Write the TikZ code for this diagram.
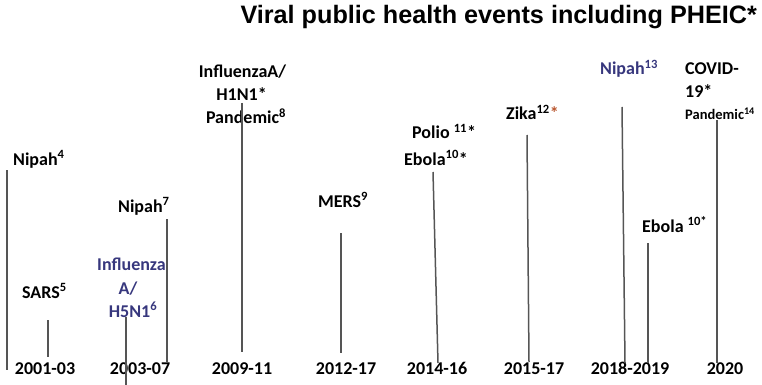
\documentclass[tikz,border=0pt]{standalone}
\usepackage{fontspec}
\setmainfont{Carlito}
\newfontfamily\titlefont{Liberation Sans}
\definecolor{navy}{RGB}{55,55,125}
\definecolor{zikaorange}{RGB}{185,85,45}
\definecolor{barcol}{RGB}{85,85,85}
\newcommand{\sups}[1]{\textsuperscript{#1}}
\tikzset{
  lbl/.style={font=\bfseries\fontsize{18}{20}\selectfont, inner sep=0pt, anchor=base west},
  lblc/.style={font=\bfseries\fontsize{18}{20}\selectfont, inner sep=0pt, anchor=base},
  small/.style={font=\bfseries\fontsize{14.5}{16}\selectfont, inner sep=0pt, anchor=base west},
  yr/.style={font=\bfseries\fontsize{18}{20}\selectfont, inner sep=0pt, anchor=base},
  bar/.style={draw=barcol, line width=1.5pt},
}
\begin{document}
\begin{tikzpicture}[x=1pt,y=-1pt]
\useasboundingbox (0,0) rectangle (762,385);
% title
\node[font=\titlefont\bfseries\fontsize{25.2}{28}\selectfont, inner sep=0pt, anchor=base east] (title) at (757,24) {Viral public health events including PHEIC*};

% year labels
\node[yr] (y1) at (45,374) {2001-03};
\node[yr] (y2) at (140,374) {2003-07};
\node[yr] (y3) at (242,374) {2009-11};
\node[yr] (y4) at (346,374) {2012-17};
\node[yr] (y5) at (437,374) {2014-16};
\node[yr] (y6) at (534,374) {2015-17};
\node[yr] (y7) at (630,374) {2018-2019};
\node[yr] (y8) at (725,374) {2020};

% event labels
\node[lbl] (nipah4) at (13,165) {Nipah\sups{4}};
\node[lbl] (sars) at (22,298) {SARS\sups{5}};
\node[lblc, text=navy] (h5a) at (131.5,270) {Influenza};
\node[lblc, text=navy] (h5b) at (128,294) {A/};
\node[lblc, text=navy] (h5c) at (133,317) {H5N1\sups{6}};
\node[lbl] (nipah7) at (118,212) {Nipah\sups{7}};
\node[lblc] (h1a) at (242.5,78) {InfluenzaA/};
\node[lblc] (h1b) at (241.5,101) {H1N1*};
\node[lblc] (h1c) at (246,124) {Pandemic\sups{8}};
\node[lbl] (mers) at (318,207) {MERS\sups{9}};
\node[lbl] (polio) at (412,139) {Polio \sups{11}*};
\node[lbl] (ebola1) at (404,165) {Ebola\sups{10}*};
\node[lbl] (zika) at (506,120) {Zika\sups{12}\textcolor{zikaorange}{*}};
\node[lbl, text=navy] (nipah13) at (600,75) {Nipah\sups{13}};
\node[lbl] (cova) at (685,75) {COVID-};
\node[lbl] (covb) at (685,98) {19*};
\node[small] (covc) at (685,120) {Pandemic\sups{14}};
\node[lbl] (ebola2) at (642,232) {Ebola \sups{10*}};

% bar end points
\coordinate (b1t) at (7,170);    \coordinate (b1b) at (7,370);
\coordinate (b2t) at (48,320);   \coordinate (b2b) at (48,357);
\coordinate (b3t) at (126,317);  \coordinate (b3b) at (126,385);
\coordinate (b4t) at (167,219);  \coordinate (b4b) at (167,362);
\coordinate (b5t) at (242,103);  \coordinate (b5b) at (242,352);
\coordinate (b6t) at (341,233);  \coordinate (b6b) at (341,353);
\coordinate (b7t) at (433,172);  \coordinate (b7b) at (438,363);
\coordinate (b8t) at (527,135);  \coordinate (b8b) at (529,362);
\coordinate (b9t) at (622,107);  \coordinate (b9b) at (625,363);
\coordinate (b10t) at (648,243); \coordinate (b10b) at (648,363);
\coordinate (b11t) at (717,120); \coordinate (b11b) at (717,363);

\foreach \i in {1,...,11} \draw[bar] (b\i t) -- (b\i b);
\end{tikzpicture}
\end{document}
